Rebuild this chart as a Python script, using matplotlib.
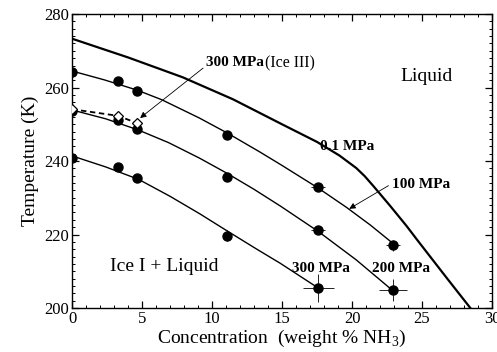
import matplotlib
matplotlib.use('Agg')
import matplotlib.pyplot as plt
from matplotlib.ticker import MultipleLocator

plt.rcParams['font.family'] = 'Liberation Serif'
plt.rcParams['mathtext.fontset'] = 'custom'
plt.rcParams['mathtext.rm'] = 'Liberation Serif'

# measured melting points (filled circles)
conc = [0, 3.3, 4.65, 11.1, 17.6, 22.95]
t_100 = [264.3, 261.8, 259.1, 247.1, 233.0, 217.1]
t_200 = [253.6, 251.2, 248.6, 235.7, 221.2, 204.9]
conc_300 = [0, 3.3, 4.65, 11.1, 17.6]
t_300 = [240.7, 238.5, 235.3, 219.7, 205.4]

# error bars
xerr_100 = [0, 0, 0, 0.15, 0.5, 0.5]
yerr_100 = [0, 0, 0, 0.8, 1.0, 1.5]
xerr_200 = [0, 0, 0, 0.15, 0.5, 1.0]
yerr_200 = [0, 0, 0, 0.8, 1.0, 3.0]
xerr_300 = [0, 0, 0, 0.15, 1.1]
yerr_300 = [0, 0, 0, 1.5, 3.8]

# Ice III points (open diamonds)
conc_ice3 = [0, 3.3, 4.65]
t_ice3 = [254.1, 252.3, 250.3]

# fitted liquidus curves
c_01 = [0, 4.0, 7.9, 11.5, 15.0, 17.5, 19.1, 20.3, 20.9, 21.5, 22.7, 23.9, 24.6, 26.8, 28.45]
f_01 = [273.3, 268.2, 262.8, 256.8, 250.0, 245.2, 241.5, 238.1, 235.9, 233.3, 227.9,
        222.3, 218.8, 208.0, 200.0]
c_100 = [0, 2.3, 4.65, 6.4, 9.1, 11.1, 13.4, 15.0, 17.6, 19.6, 21.3, 22.95]
f_100 = [264.5, 262.1, 259.3, 256.7, 251.7, 247.6, 242.5, 238.8, 232.6, 227.4, 222.6, 217.5]
c_200 = [0, 2.4, 4.7, 6.9, 9.1, 11.1, 13.0, 14.9, 17.6, 20.3, 22.95]
f_200 = [253.9, 251.5, 248.5, 245.0, 240.8, 236.6, 232.3, 227.7, 220.8, 213.1, 204.6]
c_300 = [0, 2.4, 4.76, 7.0, 9.14, 11.07, 13.2, 14.86, 17.6]
f_300 = [241.4, 238.4, 235.0, 230.4, 225.6, 221.0, 216.0, 212.2, 205.4]

fig = plt.figure(figsize=(4.97, 3.52), dpi=100)
ax = fig.add_axes([0.145, 0.125, 0.845, 0.835])

ax.plot(c_01, f_01, color='black', lw=1.6)
for c, f in [(c_100, f_100), (c_200, f_200), (c_300, f_300)]:
    ax.plot(c, f, color='black', lw=1.0)

err_kw = dict(fmt='o', color='black', ms=6.5, elinewidth=0.6, capsize=0, zorder=4)
ax.errorbar(conc, t_100, xerr=xerr_100, yerr=yerr_100, **err_kw)
ax.errorbar(conc, t_200, xerr=xerr_200, yerr=yerr_200, **err_kw)
ax.errorbar(conc_300, t_300, xerr=xerr_300, yerr=yerr_300, **err_kw)

ax.plot(conc_ice3, t_ice3, color='black', ls=(0, (3, 2)), lw=1.3,
        marker='D', ms=5.5, mfc='white', mec='black', mew=0.9, zorder=5)

ax.set_xlim(0, 30)
ax.set_ylim(200, 280)
ax.xaxis.set_major_locator(MultipleLocator(5))
ax.xaxis.set_minor_locator(MultipleLocator(1))
ax.yaxis.set_major_locator(MultipleLocator(20))
ax.yaxis.set_minor_locator(MultipleLocator(2))
ax.tick_params(which='both', direction='in', top=True, right=True, labelsize=12, pad=2)
ax.tick_params(which='major', length=5, width=0.9)
ax.tick_params(which='minor', length=2.5, width=0.7)
for s in ax.spines.values():
    s.set_linewidth(1.0)

ax.set_xlabel('Concentration  (weight % NH$_3$)', fontsize=14, labelpad=1)
ax.set_ylabel('Temperature (K)', fontsize=14, labelpad=4)

bold = dict(fontsize=11, fontweight='bold', va='center')
ax.text(9.55, 266.7, '300 MPa', ha='left', **bold)
ax.text(13.8, 266.7, '(Ice III)', ha='left', va='center', fontsize=11.5)
ax.annotate('', xy=(4.86, 251.7), xytext=(9.36, 265.3),
            arrowprops=dict(arrowstyle='-|>', color='black', lw=0.6,
                            mutation_scale=9, shrinkA=0, shrinkB=0))
ax.text(17.7, 244.0, '0.1 MPa', ha='left', **bold)
ax.text(22.85, 233.7, '100 MPa', ha='left', **bold)
ax.annotate('', xy=(19.8, 227.0), xytext=(22.6, 233.3),
            arrowprops=dict(arrowstyle='-|>', color='black', lw=0.6,
                            mutation_scale=9, shrinkA=0, shrinkB=0))
ax.text(15.7, 210.8, '300 MPa', ha='left', **bold)
ax.text(21.4, 210.8, '200 MPa', ha='left', **bold)
ax.text(25.3, 263.1, 'Liquid', ha='center', va='center', fontsize=14)
ax.text(6.6, 211.2, 'Ice I + Liquid', ha='center', va='center', fontsize=14)

fig.savefig('out.png', dpi=100)
